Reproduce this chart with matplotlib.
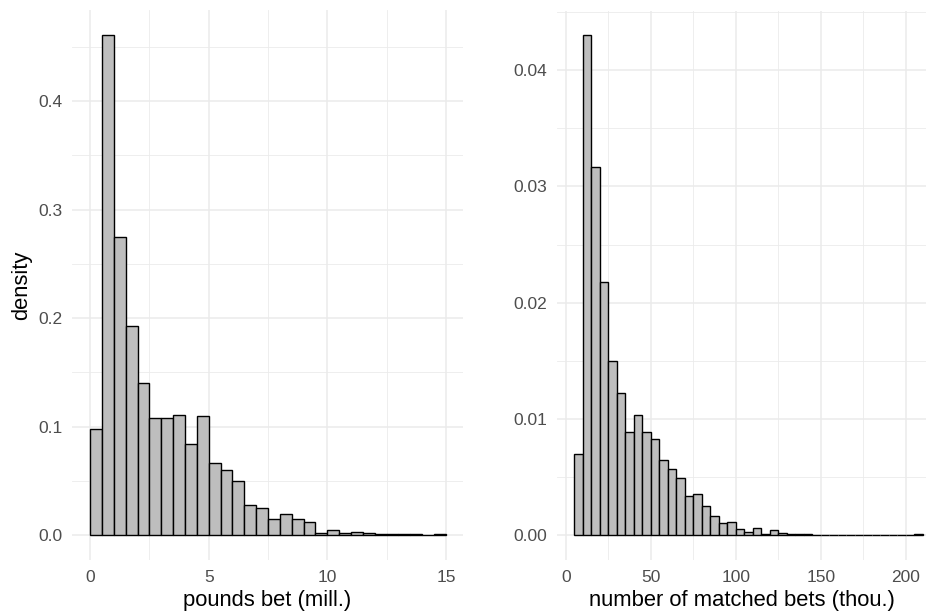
import numpy as np
import matplotlib.pyplot as plt
from matplotlib.ticker import MultipleLocator

plt.rcParams['font.family'] = ['Liberation Sans', 'DejaVu Sans']

# pounds bet (mill.), bins of 0.5 starting at 0
pounds_start = 0.0
pounds_width = 0.5
pounds_density = [0.098, 0.461, 0.275, 0.193, 0.140, 0.108, 0.108, 0.111, 0.084, 0.110,
                  0.066, 0.060, 0.050, 0.028, 0.025, 0.015, 0.019, 0.015, 0.012, 0.002,
                  0.005, 0.0015, 0.003, 0.002, 0.001, 0.001, 0.0006, 0.0006, 0.0001, 0.0009]

# number of matched bets (thou.), bins of 5 starting at 5
bets_start = 5.0
bets_width = 5.0
bets_density = [0.0070, 0.0430, 0.0317, 0.0218, 0.0150, 0.0122, 0.0089, 0.0103, 0.0089, 0.0083,
                0.0065, 0.0057, 0.0049, 0.0034, 0.0035, 0.0025, 0.0016, 0.0010, 0.0011, 0.0005,
                0.0003, 0.0006, 0.0001, 0.0004, 0.00015, 0.00005, 0.00005, 0.00005, 0.00003, 0.0,
                0.0, 0.0, 0.0, 0.0, 0.0, 0.0, 0.0, 0.0, 0.0, 0.0, 0.00008]

grid_col = '#EBEBEB'
text_col = '#4D4D4D'


def draw_hist(ax, start, width, dens, xlim, ylim, xmaj, xmin, ymaj, ymin, yfmt):
    dens = np.asarray(dens)
    lefts = start + width * np.arange(len(dens))
    ax.bar(lefts, dens, width=width, align='edge', color='#BEBEBE',
           edgecolor='black', linewidth=1.0, zorder=3)
    ax.set_xlim(*xlim)
    ax.set_ylim(*ylim)
    ax.xaxis.set_major_locator(MultipleLocator(xmaj))
    ax.xaxis.set_minor_locator(MultipleLocator(xmin))
    ax.yaxis.set_major_locator(MultipleLocator(ymaj))
    ax.yaxis.set_minor_locator(MultipleLocator(ymin))
    ax.yaxis.set_major_formatter(yfmt)
    ax.grid(which='major', color=grid_col, linewidth=1.1, zorder=0)
    ax.grid(which='minor', color=grid_col, linewidth=0.6, zorder=0)
    for s in ax.spines.values():
        s.set_visible(False)
    ax.tick_params(which='both', length=0, labelsize=12.5, labelcolor=text_col)
    ax.tick_params(axis='x', pad=7)
    ax.tick_params(axis='y', pad=7)
    ax.set_axisbelow(True)


fig = plt.figure(figsize=(9.26, 6.16), dpi=100)
ax1 = fig.add_axes([0.0778, 0.0909, 0.4222, 0.8929])
ax2 = fig.add_axes([0.6015, 0.0909, 0.3985, 0.8912])

draw_hist(ax1, pounds_start, pounds_width, pounds_density,
          (-0.76, 15.72), (-0.023, 0.484), 5, 2.5, 0.1, 0.05, '{x:.1f}')
draw_hist(ax2, bets_start, bets_width, bets_density,
          (-5.3, 211.8), (-0.00215, 0.0451), 50, 25, 0.01, 0.005, '{x:.2f}')

ax1.set_xlabel('pounds bet (mill.)', fontsize=15.8, labelpad=4)
ax1.set_ylabel('density', fontsize=15.8, labelpad=4)
ax2.set_xlabel('number of matched bets (thou.)', fontsize=15.8, labelpad=4)

fig.savefig('out.png', dpi=100)
